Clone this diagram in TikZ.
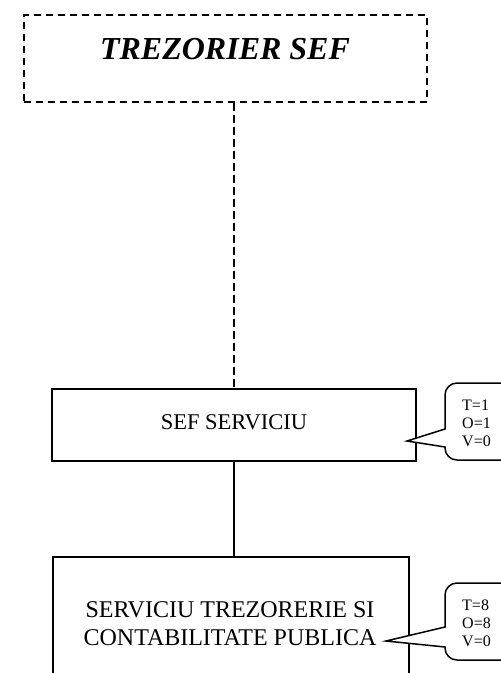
\documentclass[tikz,border=0pt]{standalone}
\usepackage{fontspec}
\setmainfont{Liberation Serif}

\begin{document}
\begin{tikzpicture}[
    x=1pt, y=-1pt,
    unit/.style  ={draw, line width=1.6pt, inner sep=0pt},
    head/.style  ={draw, line width=1.5pt, dash pattern=on 7pt off 5pt, inner sep=0pt},
    bubble/.style={draw, line width=1.5pt, fill=white, rounded corners=12pt},
    tip/.style   ={draw, line width=1.5pt, line join=miter},
    stat/.style  ={align=left, inner sep=0pt, anchor=base west,
                   font=\fontsize{16}{18}\selectfont},
    link/.style  ={line width=1.5pt},
  ]
  \useasboundingbox (0,0) rectangle (501,673);

  % ------------------------------------------------------------ head ---
  \node[head, minimum width=403pt, minimum height=87pt] (sef) at (225.5,58.5) {};
  \node[anchor=base, inner sep=0pt, font=\fontsize{32}{34}\selectfont\bfseries\itshape]
        (sefname) at (225,59) {TREZORIER SEF};

  % ----------------------------------------------------------- units ---
  \node[unit, minimum width=364pt, minimum height=72pt] (serv) at (234,425) {};
  \node[anchor=base, inner sep=0pt, font=\fontsize{22.5}{24}\selectfont]
        (servname) at (234,429) {SEF SERVICIU};
  \node[unit, minimum width=356pt, minimum height=150pt, anchor=north west] (trez) at (52,556) {};
  \node[anchor=base, inner sep=0pt, font=\fontsize{24}{28}\selectfont]
        (trezname1) at (230,617) {SERVICIU TREZORERIE SI};
  \node[anchor=base, inner sep=0pt, font=\fontsize{24}{28}\selectfont]
        (trezname2) at (230,645) {CONTABILITATE PUBLICA};

  % --------------------------------------------------------- callouts ---
  % (base anchor sits on the last line)
  \draw[bubble] (445,383) rectangle (530,460);
  \fill[white] (446,429.5) -- (408,441) -- (446,446.5) -- cycle;
  \draw[tip] (445,429) -- (407,441) -- (445,447);
  \node[stat] (statserv) at (462,446) {T=1\\O=1\\V=0};

  \draw[bubble] (445,583) rectangle (530,660);
  \fill[white] (446,627.5) -- (387,641) -- (446,646.5) -- cycle;
  \draw[tip] (445,627) -- (386,641) -- (445,647);
  \node[stat] (stattrez) at (462,646) {T=8\\O=8\\V=0};

  % ------------------------------------------------------------ edges ---
  \draw[link, dash pattern=on 8pt off 4pt] (sef.south -| serv.north) -- (serv.north);
  \draw[link] (serv.south) -- (serv.south |- trez.north);

\end{tikzpicture}
\end{document}
